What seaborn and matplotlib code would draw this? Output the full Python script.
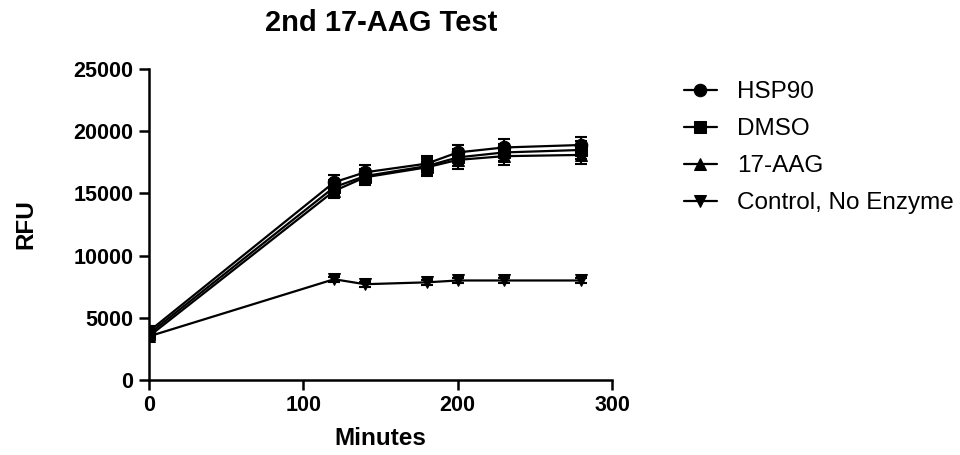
import numpy as np
import pandas as pd
import matplotlib
matplotlib.use("Agg")
import matplotlib.pyplot as plt
import seaborn as sns

minutes = [0, 120, 140, 180, 200, 230, 280]
series_names = ["HSP90", "DMSO", "17-AAG", "Control, No Enzyme"]
hsp90 = [3900, 15900, 16700, 17400, 18300, 18700, 18900]
dmso = [3700, 15500, 16400, 17200, 17900, 18300, 18500]
aag = [3500, 15200, 16300, 17100, 17700, 18000, 18100]
control = [3500, 8100, 7700, 7850, 8000, 8000, 8000]
hsp90_err = [400, 600, 600, 600, 600, 650, 650]
dmso_err = [400, 600, 600, 700, 700, 700, 700]
aag_err = [400, 600, 600, 700, 700, 700, 700]
control_err = [200, 200, 200, 200, 200, 200, 200]

values = [hsp90, dmso, aag, control]
errors = [hsp90_err, dmso_err, aag_err, control_err]

rows = []
for name, vals in zip(series_names, values):
    for m, v in zip(minutes, vals):
        rows.append({"Minutes": m, "RFU": v, "Series": name})
df = pd.DataFrame(rows)

sns.set_style("ticks")
plt.rcParams["font.family"] = ["Liberation Sans", "DejaVu Sans"]
plt.rcParams["text.color"] = "black"
plt.rcParams["axes.labelcolor"] = "black"

fig = plt.figure(figsize=(9.6, 4.55), dpi=100)
ax = fig.add_axes([0.155, 0.165, 0.4825, 0.683])

markers = {"HSP90": "o", "DMSO": "s", "17-AAG": "^", "Control, No Enzyme": "v"}
palette = {n: "black" for n in series_names}

for name, vals, err in zip(series_names, values, errors):
    ax.errorbar(minutes, vals, yerr=err, fmt="none", ecolor="black",
                elinewidth=1.5, capsize=4, capthick=1.5, zorder=2)

sns.lineplot(data=df, x="Minutes", y="RFU", hue="Series", style="Series",
             markers=markers, dashes=False, palette=palette,
             markersize=9, linewidth=1.6, markeredgecolor="black",
             ax=ax, legend=True, zorder=3)

ax.set_xlim(0, 300)
ax.set_ylim(0, 25000)
ax.set_xticks([0, 100, 200, 300])
ax.set_yticks([0, 5000, 10000, 15000, 20000, 25000])
for s in ["top", "right"]:
    ax.spines[s].set_visible(False)
for s in ["left", "bottom"]:
    ax.spines[s].set_linewidth(1.8)
    ax.spines[s].set_color("black")
ax.tick_params(axis="both", direction="out", length=7, width=1.8,
               labelsize=15.5, colors="black", pad=4)
for lab in ax.get_xticklabels() + ax.get_yticklabels():
    lab.set_fontweight("bold")
ax.set_xlabel("Minutes", fontsize=17.5, fontweight="bold", labelpad=8,
              color="black")
ax.set_ylabel("RFU", fontsize=17.5, fontweight="bold", labelpad=26,
              color="black")
fig.text(0.397, 1 - 23 / 455, "2nd 17-AAG Test", fontsize=21,
         fontweight="bold", ha="center", va="center", color="black")

handles, labels = ax.get_legend_handles_labels()
for h in handles:
    h.set_markersize(9)
leg = ax.legend(handles, labels, loc="upper left",
                bbox_to_anchor=(0.7125, 1 - 81 / 455), bbox_transform=fig.transFigure,
                frameon=False, fontsize=17.5, handlelength=1.35,
                handletextpad=0.85, labelspacing=0.62, borderpad=0,
                borderaxespad=0)
for t in leg.get_texts():
    t.set_color("black")

fig.savefig("out.png", dpi=100)
